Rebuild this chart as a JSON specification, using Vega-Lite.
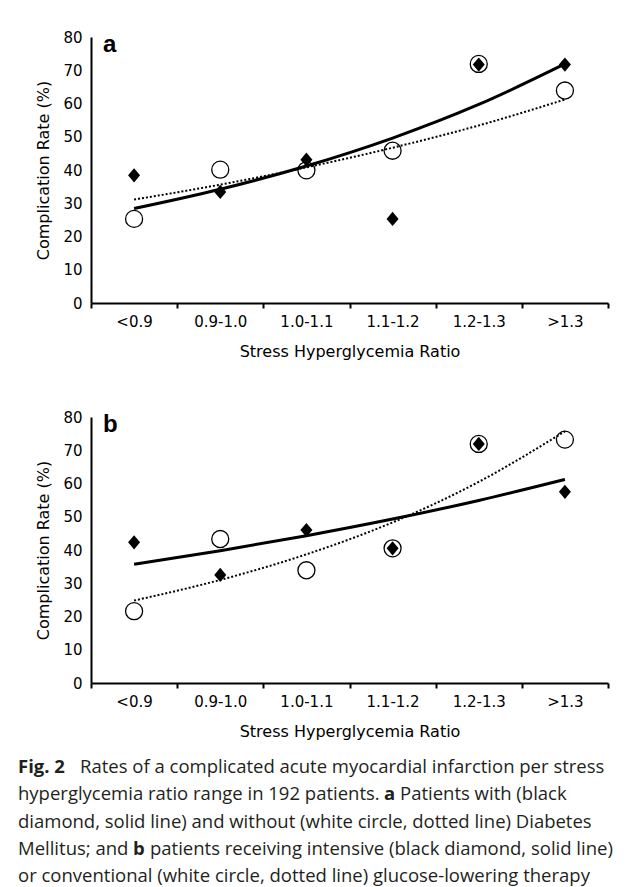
{
  "$schema": "https://vega.github.io/schema/vega-lite/v6.json",
  "background": "white",
  "padding": {"left": 18, "top": 30, "right": 5, "bottom": 0},
  "spacing": 19,
  "config": {
    "view": {"stroke": null},
    "font": "DejaVu Sans",
    "axis": {
      "domainColor": "black", "domainWidth": 2, "tickColor": "black", "tickWidth": 2,
      "labelColor": "black", "titleColor": "black", "labelFont": "DejaVu Sans", "titleFont": "DejaVu Sans",
      "labelFontSize": 15, "titleFontSize": 16, "titleFontWeight": "normal", "grid": false
    },
    "title": {"font": "Liberation Sans", "fontSize": 24, "fontWeight": "bold", "color": "black", "anchor": "start", "frame": "group", "offset": -27, "dx": 12}
  },
  "datasets": {
    "rates": [
      {"panel": "a", "range": "<0.9", "kind": "black diamond", "rate": 38.4},
      {"panel": "a", "range": "0.9-1.0", "kind": "black diamond", "rate": 33.4},
      {"panel": "a", "range": "1.0-1.1", "kind": "black diamond", "rate": 43.1},
      {"panel": "a", "range": "1.1-1.2", "kind": "black diamond", "rate": 25.3},
      {"panel": "a", "range": "1.2-1.3", "kind": "black diamond", "rate": 71.7},
      {"panel": "a", "range": ">1.3", "kind": "black diamond", "rate": 71.7},
      {"panel": "a", "range": "<0.9", "kind": "white circle", "rate": 25.3},
      {"panel": "a", "range": "0.9-1.0", "kind": "white circle", "rate": 40.1},
      {"panel": "a", "range": "1.0-1.1", "kind": "white circle", "rate": 39.9},
      {"panel": "a", "range": "1.1-1.2", "kind": "white circle", "rate": 45.8},
      {"panel": "a", "range": "1.2-1.3", "kind": "white circle", "rate": 71.9},
      {"panel": "a", "range": ">1.3", "kind": "white circle", "rate": 63.9},
      {"panel": "a", "range": "<0.9", "kind": "solid fit", "rate": 28.4},
      {"panel": "a", "range": "0.9-1.0", "kind": "solid fit", "rate": 34.2},
      {"panel": "a", "range": "1.0-1.1", "kind": "solid fit", "rate": 41.2},
      {"panel": "a", "range": "1.1-1.2", "kind": "solid fit", "rate": 49.6},
      {"panel": "a", "range": "1.2-1.3", "kind": "solid fit", "rate": 59.7},
      {"panel": "a", "range": ">1.3", "kind": "solid fit", "rate": 71.9},
      {"panel": "a", "range": "<0.9", "kind": "dotted fit", "rate": 31.1},
      {"panel": "a", "range": "0.9-1.0", "kind": "dotted fit", "rate": 35.6},
      {"panel": "a", "range": "1.0-1.1", "kind": "dotted fit", "rate": 40.8},
      {"panel": "a", "range": "1.1-1.2", "kind": "dotted fit", "rate": 46.7},
      {"panel": "a", "range": "1.2-1.3", "kind": "dotted fit", "rate": 53.4},
      {"panel": "a", "range": ">1.3", "kind": "dotted fit", "rate": 61.2},
      {"panel": "b", "range": "<0.9", "kind": "black diamond", "rate": 42.3},
      {"panel": "b", "range": "0.9-1.0", "kind": "black diamond", "rate": 32.5},
      {"panel": "b", "range": "1.0-1.1", "kind": "black diamond", "rate": 46.0},
      {"panel": "b", "range": "1.1-1.2", "kind": "black diamond", "rate": 40.5},
      {"panel": "b", "range": "1.2-1.3", "kind": "black diamond", "rate": 71.9},
      {"panel": "b", "range": ">1.3", "kind": "black diamond", "rate": 57.5},
      {"panel": "b", "range": "<0.9", "kind": "white circle", "rate": 21.6},
      {"panel": "b", "range": "0.9-1.0", "kind": "white circle", "rate": 43.3},
      {"panel": "b", "range": "1.0-1.1", "kind": "white circle", "rate": 33.9},
      {"panel": "b", "range": "1.1-1.2", "kind": "white circle", "rate": 40.5},
      {"panel": "b", "range": "1.2-1.3", "kind": "white circle", "rate": 71.9},
      {"panel": "b", "range": ">1.3", "kind": "white circle", "rate": 73.2},
      {"panel": "b", "range": "<0.9", "kind": "solid fit", "rate": 35.7},
      {"panel": "b", "range": "0.9-1.0", "kind": "solid fit", "rate": 39.8},
      {"panel": "b", "range": "1.0-1.1", "kind": "solid fit", "rate": 44.3},
      {"panel": "b", "range": "1.1-1.2", "kind": "solid fit", "rate": 49.3},
      {"panel": "b", "range": "1.2-1.3", "kind": "solid fit", "rate": 54.9},
      {"panel": "b", "range": ">1.3", "kind": "solid fit", "rate": 61.2},
      {"panel": "b", "range": "<0.9", "kind": "dotted fit", "rate": 24.8},
      {"panel": "b", "range": "0.9-1.0", "kind": "dotted fit", "rate": 31.0},
      {"panel": "b", "range": "1.0-1.1", "kind": "dotted fit", "rate": 38.7},
      {"panel": "b", "range": "1.1-1.2", "kind": "dotted fit", "rate": 48.3},
      {"panel": "b", "range": "1.2-1.3", "kind": "dotted fit", "rate": 60.5},
      {"panel": "b", "range": ">1.3", "kind": "dotted fit", "rate": 75.7}
    ],
    "caption": [
      {"line": 1, "slot": "fig", "text": "Fig. 2"},
      {"line": 1, "slot": "rest1", "text": "Rates of a complicated acute myocardial infarction per stress"},
      {"line": 2, "slot": "start", "text": "hyperglycemia ratio range in 192 patients."},
      {"line": 2, "slot": "a", "text": "a"},
      {"line": 2, "slot": "rest2", "text": "Patients with (black"},
      {"line": 3, "slot": "start", "text": "diamond, solid line) and without (white circle, dotted line) Diabetes"},
      {"line": 4, "slot": "start", "text": "Mellitus; and"},
      {"line": 4, "slot": "b", "text": "b"},
      {"line": 4, "slot": "rest4", "text": "patients receiving intensive (black diamond, solid line)"},
      {"line": 5, "slot": "start", "text": "or conventional (white circle, dotted line) glucose-lowering therapy"}
    ]
  },
  "vconcat": [
    {
      "spacing": 51,
      "vconcat": [
        {
          "width": 517, "height": 266,
          "title": {"text": "a"},
          "data": {"name": "rates"},
          "transform": [{"filter": "datum.panel === 'a'"}],
          "encoding": {
            "x": {"field": "range", "type": "ordinal", "sort": ["<0.9", "0.9-1.0", "1.0-1.1", "1.1-1.2", "1.2-1.3", ">1.3"],
                  "scale": {"type": "band", "paddingInner": 0, "paddingOuter": 0},
                  "axis": {"title": "Stress Hyperglycemia Ratio", "labelAngle": 0, "tickBand": "extent", "tickSize": 5, "labelPadding": 6, "titlePadding": 14}},
            "y": {"field": "rate", "type": "quantitative", "scale": {"domain": [0, 80], "nice": false},
                  "axis": {"title": "Complication Rate (%)", "values": [0, 10, 20, 30, 40, 50, 60, 70, 80], "ticks": false, "labelPadding": 9, "titlePadding": 11}}
          },
          "layer": [
            {"transform": [{"filter": "datum.kind === 'white circle'"}], "mark": {"type": "point", "shape": "circle", "filled": true, "fill": "white", "stroke": "black", "strokeWidth": 1.3, "size": 290, "opacity": 1}},
            {"transform": [{"filter": "datum.kind === 'dotted fit'"}], "mark": {"type": "line", "color": "black", "strokeWidth": 2, "strokeDash": [2, 2], "interpolate": "monotone"}},
            {"transform": [{"filter": "datum.kind === 'solid fit'"}], "mark": {"type": "line", "color": "black", "strokeWidth": 3, "interpolate": "monotone"}},
            {"transform": [{"filter": "datum.kind === 'black diamond'"}], "mark": {"type": "point", "shape": "M-0.85,0L0,-1L0.85,0L0,1Z", "filled": true, "color": "black", "size": 200, "opacity": 1}}
          ]
        },
        {
          "width": 517, "height": 266,
          "title": {"text": "b"},
          "data": {"name": "rates"},
          "transform": [{"filter": "datum.panel === 'b'"}],
          "encoding": {
            "x": {"field": "range", "type": "ordinal", "sort": ["<0.9", "0.9-1.0", "1.0-1.1", "1.1-1.2", "1.2-1.3", ">1.3"],
                  "scale": {"type": "band", "paddingInner": 0, "paddingOuter": 0},
                  "axis": {"title": "Stress Hyperglycemia Ratio", "labelAngle": 0, "tickBand": "extent", "tickSize": 5, "labelPadding": 6, "titlePadding": 14}},
            "y": {"field": "rate", "type": "quantitative", "scale": {"domain": [0, 80], "nice": false},
                  "axis": {"title": "Complication Rate (%)", "values": [0, 10, 20, 30, 40, 50, 60, 70, 80], "ticks": false, "labelPadding": 9, "titlePadding": 11}}
          },
          "layer": [
            {"transform": [{"filter": "datum.kind === 'white circle'"}], "mark": {"type": "point", "shape": "circle", "filled": true, "fill": "white", "stroke": "black", "strokeWidth": 1.3, "size": 290, "opacity": 1}},
            {"transform": [{"filter": "datum.kind === 'dotted fit'"}], "mark": {"type": "line", "color": "black", "strokeWidth": 2, "strokeDash": [2, 2], "interpolate": "monotone"}},
            {"transform": [{"filter": "datum.kind === 'solid fit'"}], "mark": {"type": "line", "color": "black", "strokeWidth": 3, "interpolate": "monotone"}},
            {"transform": [{"filter": "datum.kind === 'black diamond'"}], "mark": {"type": "point", "shape": "M-0.85,0L0,-1L0.85,0L0,1Z", "filled": true, "color": "black", "size": 200, "opacity": 1}}
          ]
        }
      ]
    },
    {
      "width": 517, "height": 109,
      "data": {"name": "caption"},
      "encoding": {
        "y": {"field": "line", "type": "ordinal", "axis": null, "scale": {"type": "point", "padding": 0}},
        "x": {"value": -73},
        "text": {"field": "text"}
      },
      "layer": [
        {"transform": [{"filter": "datum.slot === 'fig'"}], "mark": {"type": "text", "align": "left", "baseline": "middle", "font": "Open Sans", "fontSize": 18.5, "fontWeight": "bold", "color": "#231f20"}},
        {"transform": [{"filter": "datum.slot === 'start'"}], "mark": {"type": "text", "align": "left", "baseline": "middle", "font": "Open Sans", "fontSize": 18.5, "color": "#231f20"}},
        {"transform": [{"filter": "datum.slot === 'rest1'"}], "mark": {"type": "text", "align": "left", "baseline": "middle", "font": "Open Sans", "fontSize": 18.5, "color": "#231f20", "dx": 62}},
        {"transform": [{"filter": "datum.slot === 'a'"}], "mark": {"type": "text", "align": "left", "baseline": "middle", "font": "Open Sans", "fontSize": 18.5, "fontWeight": "bold", "color": "#231f20", "dx": 366}},
        {"transform": [{"filter": "datum.slot === 'rest2'"}], "mark": {"type": "text", "align": "left", "baseline": "middle", "font": "Open Sans", "fontSize": 18.5, "color": "#231f20", "dx": 382}},
        {"transform": [{"filter": "datum.slot === 'b'"}], "mark": {"type": "text", "align": "left", "baseline": "middle", "font": "Open Sans", "fontSize": 18.5, "fontWeight": "bold", "color": "#231f20", "dx": 115}},
        {"transform": [{"filter": "datum.slot === 'rest4'"}], "mark": {"type": "text", "align": "left", "baseline": "middle", "font": "Open Sans", "fontSize": 18.5, "color": "#231f20", "dx": 132}}
      ]
    }
  ]
}
